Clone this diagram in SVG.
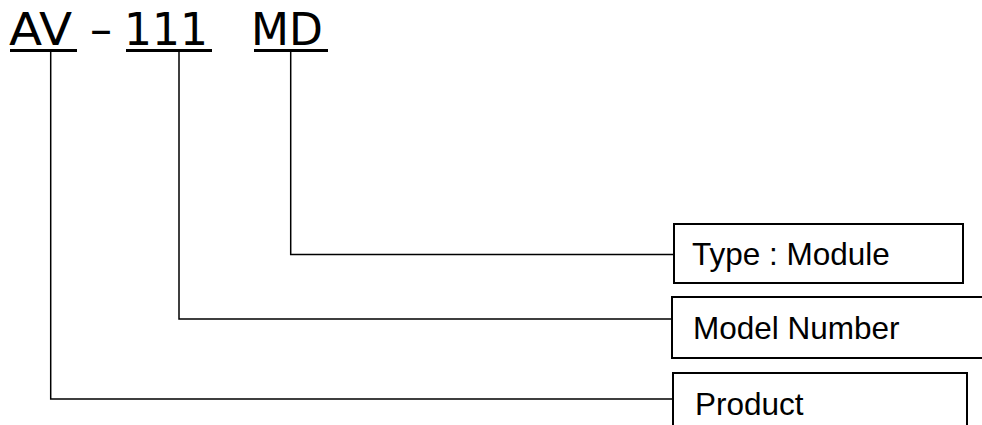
<svg xmlns="http://www.w3.org/2000/svg" width="982" height="425" viewBox="0 0 982 425">
<style>
.code{font-family:"DejaVu Sans",Verdana,sans-serif;font-size:44px;fill:#000}
.lbl{font-family:"Liberation Sans",Arial,sans-serif;font-size:31.5px;fill:#000}
.ul{stroke:#000;stroke-width:3;fill:none}
.box{stroke:#000;stroke-width:2;fill:#fff}
.conn{stroke:#000;stroke-width:1.5;fill:none}
</style>
<rect width="982" height="425" fill="#fff"/>
<g id="code">
<text class="code" transform="translate(9,45) scale(1.1,1)" x="0" y="0">AV</text>
<text class="code" x="90" y="45">–</text>
<text class="code" x="124" y="45">111</text>
<text class="code" x="251" y="45">MD</text>
<line class="ul" x1="10" y1="50.5" x2="77" y2="50.5"/>
<line class="ul" x1="126" y1="50.5" x2="212" y2="50.5"/>
<line class="ul" x1="254" y1="50.5" x2="328" y2="50.5"/>
</g>
<g id="connectors">
<polyline class="conn" points="50.7,52 50.7,399 673,399"/>
<polyline class="conn" points="179,52 179,319 672,319"/>
<polyline class="conn" points="290.7,52 290.7,254.5 674,254.5"/>
</g>
<g id="type">
<rect class="box" x="674" y="224" width="289" height="59"/>
<text class="lbl" x="692" y="265">Type : Module</text>
</g>
<g id="model">
<rect class="box" x="672" y="297" width="320" height="61"/>
<text class="lbl" x="693" y="339">Model Number</text>
</g>
<g id="product">
<rect class="box" x="673" y="373" width="294" height="70"/>
<text class="lbl" x="695" y="415">Product</text>
</g>
</svg>
